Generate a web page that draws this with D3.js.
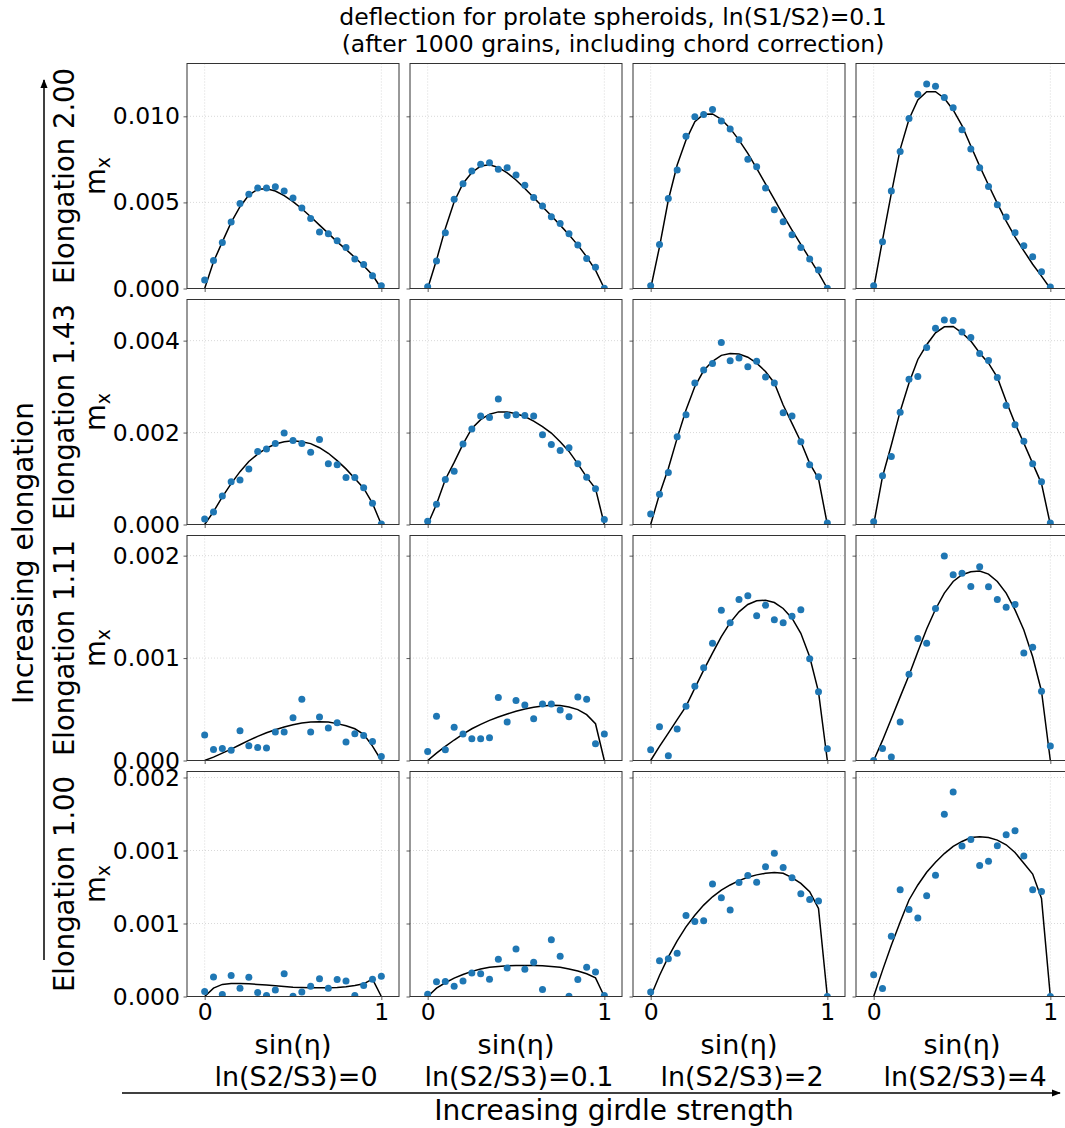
<!DOCTYPE html>
<html>
<head>
<meta charset="utf-8">
<script src="https://cdn.jsdelivr.net/npm/d3@7"></script>
<style>
  body { margin: 0; background: #fff; }
  svg { display: block; font-family: 'DejaVu Sans', sans-serif; }
</style>
</head>
<body>
<svg id="chart" width="1065" height="1128"></svg>
<script>
// sin(eta) sample positions shared by every panel
const sinEta = [0, 0.05, 0.1, 0.15, 0.2, 0.25, 0.3, 0.35, 0.4, 0.45, 0.5,
  0.55, 0.6, 0.65, 0.7, 0.75, 0.8, 0.85, 0.9, 0.95, 1];

const rowLabels = ['Elongation 2.00', 'Elongation 1.43', 'Elongation 1.11', 'Elongation 1.00'];
const colLabels = ['ln(S2/S3)=0', 'ln(S2/S3)=0.1', 'ln(S2/S3)=2', 'ln(S2/S3)=4'];

const yTickValues = [
  [0, 0.005, 0.01],
  [0, 0.002, 0.004],
  [0, 0.001, 0.002],
  [0, 0.0005, 0.001, 0.0015]
];
const yTickLabels = [
  ['0.000', '0.005', '0.010'],
  ['0.000', '0.002', '0.004'],
  ['0.000', '0.001', '0.002'],
  ['0.000', '0.001', '0.001', '0.002']
];
const xTickValues = [0, 1];

// simulated m_x (dots), one array per girdle-strength column
const pointsE200 = [
  [0.00050, 0.00163, 0.00267, 0.00386, 0.00494, 0.00548, 0.00583, 0.00583, 0.00591, 0.00566, 0.00525, 0.00467, 0.00407, 0.00328, 0.00318, 0.00277, 0.00238, 0.00172, 0.00140, 0.00074, 0.00016],
  [0.00010, 0.00159, 0.00324, 0.00519, 0.00608, 0.00682, 0.00721, 0.00731, 0.00692, 0.00702, 0.00659, 0.00599, 0.00529, 0.00479, 0.00417, 0.00378, 0.00318, 0.00252, 0.00174, 0.00124, 0.00002],
  [0.00016, 0.00256, 0.00523, 0.00688, 0.00884, 0.00998, 0.01010, 0.01039, 0.00973, 0.00926, 0.00864, 0.00750, 0.00707, 0.00583, 0.00457, 0.00388, 0.00312, 0.00238, 0.00172, 0.00107, 0.00002],
  [0.00016, 0.00271, 0.00566, 0.00795, 0.00988, 0.01128, 0.01188, 0.01174, 0.01109, 0.01050, 0.00922, 0.00810, 0.00702, 0.00593, 0.00486, 0.00415, 0.00324, 0.00248, 0.00184, 0.00097, 0.00008]
];
const pointsE143 = [
  [0.00012, 0.00027, 0.00062, 0.00093, 0.00097, 0.00121, 0.00159, 0.00164, 0.00176, 0.00199, 0.00183, 0.00176, 0.00157, 0.00185, 0.00132, 0.00130, 0.00102, 0.00102, 0.00080, 0.00046, 0.00001],
  [0.00007, 0.00044, 0.00098, 0.00116, 0.00175, 0.00208, 0.00236, 0.00233, 0.00273, 0.00237, 0.00239, 0.00237, 0.00236, 0.00195, 0.00174, 0.00161, 0.00167, 0.00132, 0.00103, 0.00078, 0.00011],
  [0.00023, 0.00066, 0.00113, 0.00191, 0.00239, 0.00308, 0.00336, 0.00350, 0.00396, 0.00356, 0.00362, 0.00343, 0.00355, 0.00321, 0.00308, 0.00243, 0.00236, 0.00180, 0.00130, 0.00104, 0.00003],
  [0.00006, 0.00106, 0.00148, 0.00244, 0.00316, 0.00322, 0.00385, 0.00427, 0.00445, 0.00444, 0.00419, 0.00407, 0.00372, 0.00357, 0.00320, 0.00259, 0.00217, 0.00181, 0.00132, 0.00093, 0.00003]
];
const pointsE111 = [
  [0.000248, 0.000108, 0.000118, 0.000101, 0.000291, 0.000144, 0.000127, 0.000121, 0.000278, 0.000278, 0.000418, 0.000598, 0.000278, 0.000425, 0.000317, 0.000369, 0.000180, 0.000261, 0.000245, 0.000186, 0.000039],
  [0.000088, 0.000431, 0.000105, 0.000324, 0.000258, 0.000212, 0.000212, 0.000222, 0.000614, 0.000376, 0.000585, 0.000542, 0.000408, 0.000552, 0.000552, 0.000493, 0.000428, 0.000621, 0.000598, 0.000163, 0.000258],
  [0.000105, 0.000330, 0.000046, 0.000307, 0.000529, 0.000725, 0.000905, 0.001144, 0.001467, 0.001346, 0.001572, 0.001608, 0.001412, 0.001516, 0.001373, 0.001346, 0.001408, 0.001471, 0.000993, 0.000670, 0.000114],
  [0.000000, 0.000118, 0.000033, 0.000376, 0.000843, 0.001190, 0.001144, 0.001484, 0.001997, 0.001814, 0.001827, 0.001699, 0.001892, 0.001696, 0.001572, 0.001497, 0.001523, 0.001049, 0.001105, 0.000676, 0.000141]
];
const pointsE100 = [
  [0.000034, 0.000133, 0.000014, 0.000144, 0.000057, 0.000131, 0.000028, 0.000007, 0.000044, 0.000156, 0.000002, 0.000030, 0.000071, 0.000122, 0.000057, 0.000117, 0.000106, 0.000007, 0.000076, 0.000119, 0.000138],
  [0.000016, 0.000101, 0.000103, 0.000071, 0.000106, 0.000161, 0.000156, 0.000119, 0.000255, 0.000195, 0.000326, 0.000186, 0.000234, 0.000048, 0.000388, 0.000275, 0.000002, 0.000117, 0.000200, 0.000167, 0.000007],
  [0.000030, 0.000245, 0.000259, 0.000296, 0.000555, 0.000514, 0.000518, 0.000771, 0.000677, 0.000592, 0.000780, 0.000828, 0.000782, 0.000888, 0.000982, 0.000883, 0.000814, 0.000704, 0.000665, 0.000654, 0.000000],
  [0.000149, 0.000055, 0.000413, 0.000732, 0.000596, 0.000537, 0.000690, 0.000830, 0.001248, 0.001401, 0.001030, 0.001076, 0.000897, 0.000927, 0.001032, 0.001108, 0.001135, 0.000963, 0.000732, 0.000720, 0.000000]
];

// model curves (black lines)
const fitE200 = [
  [0, 0.00155, 0.00271, 0.00384, 0.00475, 0.00543, 0.00576, 0.00579, 0.00566, 0.00539, 0.00504, 0.00463, 0.00417, 0.00368, 0.00320, 0.00271, 0.00227, 0.00180, 0.00132, 0.00078, 0],
  [0, 0.00165, 0.00349, 0.00504, 0.00610, 0.00674, 0.00711, 0.00719, 0.00703, 0.00672, 0.00630, 0.00581, 0.00529, 0.00475, 0.00422, 0.00368, 0.00312, 0.00252, 0.00184, 0.00107, 0],
  [0, 0.00242, 0.00514, 0.00717, 0.00862, 0.00969, 0.01012, 0.01014, 0.00983, 0.00930, 0.00862, 0.00785, 0.00698, 0.00607, 0.00517, 0.00426, 0.00339, 0.00256, 0.00174, 0.00091, 0],
  [0, 0.00281, 0.00552, 0.00808, 0.00983, 0.01095, 0.01143, 0.01143, 0.01105, 0.01037, 0.00946, 0.00828, 0.00711, 0.00601, 0.00494, 0.00391, 0.00300, 0.00219, 0.00141, 0.00072, 0]
];
const fitE143 = [
  [0, 0.00028, 0.00060, 0.00089, 0.00115, 0.00137, 0.00153, 0.00166, 0.00175, 0.00180, 0.00182, 0.00180, 0.00176, 0.00167, 0.00155, 0.00139, 0.00121, 0.00100, 0.00079, 0.00046, 0],
  [0, 0.00044, 0.00098, 0.00135, 0.00175, 0.00209, 0.00228, 0.00240, 0.00245, 0.00245, 0.00241, 0.00235, 0.00225, 0.00213, 0.00199, 0.00180, 0.00159, 0.00132, 0.00103, 0.00078, 0],
  [0, 0.00066, 0.00122, 0.00188, 0.00249, 0.00300, 0.00335, 0.00355, 0.00368, 0.00372, 0.00371, 0.00364, 0.00351, 0.00333, 0.00308, 0.00260, 0.00220, 0.00180, 0.00133, 0.00100, 0],
  [0, 0.00104, 0.00173, 0.00246, 0.00308, 0.00359, 0.00391, 0.00417, 0.00430, 0.00431, 0.00417, 0.00399, 0.00373, 0.00351, 0.00320, 0.00268, 0.00220, 0.00177, 0.00133, 0.00089, 0]
];
const fitE111 = [
  [0, 0.000033, 0.000072, 0.000111, 0.000154, 0.000196, 0.000235, 0.000271, 0.000301, 0.000327, 0.000350, 0.000366, 0.000376, 0.000379, 0.000376, 0.000360, 0.000340, 0.000310, 0.000255, 0.000140, 0],
  [0, 0.000072, 0.000137, 0.000200, 0.000258, 0.000310, 0.000353, 0.000392, 0.000425, 0.000454, 0.000480, 0.000503, 0.000520, 0.000533, 0.000539, 0.000536, 0.000523, 0.000497, 0.000448, 0.000359, 0],
  [0, 0.000137, 0.000268, 0.000399, 0.000529, 0.000706, 0.000882, 0.001049, 0.001209, 0.001346, 0.001451, 0.001523, 0.001559, 0.001565, 0.001542, 0.001484, 0.001389, 0.001242, 0.001013, 0.000670, 0],
  [0, 0.000196, 0.000408, 0.000621, 0.000833, 0.001062, 0.001284, 0.001477, 0.001634, 0.001748, 0.001814, 0.001843, 0.001850, 0.001820, 0.001748, 0.001634, 0.001471, 0.001275, 0.001013, 0.000676, 0]
];
const fitE100 = [
  [0, 0.000057, 0.000083, 0.000089, 0.000089, 0.000087, 0.000083, 0.000078, 0.000073, 0.000069, 0.000064, 0.000062, 0.000060, 0.000060, 0.000060, 0.000062, 0.000067, 0.000076, 0.000087, 0.000119, 0],
  [0, 0.000057, 0.000094, 0.000126, 0.000151, 0.000172, 0.000188, 0.000200, 0.000206, 0.000211, 0.000213, 0.000213, 0.000213, 0.000211, 0.000206, 0.000200, 0.000188, 0.000174, 0.000156, 0.000128, 0],
  [0, 0.000144, 0.000271, 0.000381, 0.000477, 0.000557, 0.000626, 0.000683, 0.000729, 0.000764, 0.000794, 0.000817, 0.000833, 0.000844, 0.000849, 0.000844, 0.000814, 0.000775, 0.000718, 0.000603, 0],
  [0, 0.000179, 0.000351, 0.000511, 0.000661, 0.000764, 0.000851, 0.000920, 0.000979, 0.001028, 0.001062, 0.001089, 0.001094, 0.001089, 0.001071, 0.001039, 0.000986, 0.000913, 0.000839, 0.000672, 0]
];

const pointRows = [pointsE200, pointsE143, pointsE111, pointsE100];
const fitRows = [fitE200, fitE143, fitE111, fitE100];

// layout
const colLeft = [187, 410, 633, 856];
const rowTop = [63.5, 299.5, 535.5, 771.5];
const panelW = 212;
const panelH = 225;

const svg = d3.select('#chart');
const defs = svg.append('defs');

defs.append('marker')
  .attr('id', 'arrowHead')
  .attr('viewBox', '0 0 10 10')
  .attr('refX', 9).attr('refY', 5)
  .attr('markerWidth', 9).attr('markerHeight', 9)
  .attr('markerUnits', 'userSpaceOnUse')
  .attr('orient', 'auto')
  .append('path')
  .attr('d', 'M0,1 L10,5 L0,9 Z')
  .attr('fill', '#000');

const x = d3.scaleLinear().domain([-0.1, 1.1]).range([0, panelW]);

rowLabels.forEach((rowLabel, r) => {
  const yMax = 1.1 * d3.max(pointRows[r].concat(fitRows[r]).flat());
  const y = d3.scaleLinear().domain([0, yMax]).range([panelH, 0]);

  colLabels.forEach((colLabel, c) => {
    const g = svg.append('g').attr('transform', `translate(${colLeft[c]},${rowTop[r]})`);
    const clipId = `clip-${r}-${c}`;
    defs.append('clipPath').attr('id', clipId)
      .append('rect').attr('width', panelW).attr('height', panelH);

    // dotted grid
    g.append('g').selectAll('line.gx').data(xTickValues).join('line')
      .attr('x1', d => x(d)).attr('x2', d => x(d))
      .attr('y1', 0).attr('y2', panelH)
      .attr('stroke', '#cfcfcf').attr('stroke-width', 0.8).attr('stroke-dasharray', '1,2');
    g.append('g').selectAll('line.gy').data(yTickValues[r]).join('line')
      .attr('x1', 0).attr('x2', panelW)
      .attr('y1', d => y(d)).attr('y2', d => y(d))
      .attr('stroke', '#cfcfcf').attr('stroke-width', 0.8).attr('stroke-dasharray', '1,2');

    const plot = g.append('g').attr('clip-path', `url(#${clipId})`);
    plot.append('path')
      .datum(fitRows[r][c])
      .attr('fill', 'none')
      .attr('stroke', '#000')
      .attr('stroke-width', 1.5)
      .attr('d', d3.line().x((d, i) => x(sinEta[i])).y(d => y(d)));
    plot.append('g').selectAll('circle')
      .data(pointRows[r][c])
      .join('circle')
      .attr('cx', (d, i) => x(sinEta[i]))
      .attr('cy', d => y(d))
      .attr('r', 3.5)
      .attr('fill', '#1f77b4');

    // axes
    const yAxis = d3.axisLeft(y).tickValues(yTickValues[r]).tickSize(3.5).tickPadding(3.5)
      .tickFormat((d, i) => (c === 0 ? yTickLabels[r][i] : ''));
    const ya = g.append('g').call(yAxis);
    const xAxis = d3.axisBottom(x).tickValues(xTickValues).tickSize(3.5).tickPadding(3.5)
      .tickFormat(d => (r === 3 ? d3.format('d')(d) : ''));
    const xa = g.append('g').attr('transform', `translate(0,${panelH})`).call(xAxis);
    [ya, xa].forEach(a => {
      a.select('.domain').remove();
      a.selectAll('line').attr('stroke', '#333').attr('stroke-width', 0.8);
      a.selectAll('text').attr('font-size', 23.5).attr('font-family', 'DejaVu Sans').attr('fill', '#000');
    });

    g.append('rect')
      .attr('width', panelW).attr('height', panelH)
      .attr('fill', 'none').attr('stroke', '#333').attr('stroke-width', 1);
  });

  // row label: two lines, rotated
  const cy = rowTop[r] + panelH / 2;
  svg.append('text')
    .attr('transform', `translate(74,${cy}) rotate(-90)`)
    .attr('text-anchor', 'middle')
    .attr('font-size', 27.5)
    .text(rowLabel);
  const mx = svg.append('text')
    .attr('transform', `translate(105,${cy}) rotate(-90)`)
    .attr('text-anchor', 'middle')
    .attr('font-size', 27.5);
  mx.append('tspan').text('m');
  mx.append('tspan').attr('font-size', 19).attr('dy', 5).text('x');
});

// column labels
colLabels.forEach((colLabel, c) => {
  const cx = colLeft[c] + panelW / 2;
  svg.append('text').attr('x', cx).attr('y', 1054)
    .attr('text-anchor', 'middle').attr('font-size', 27).text('sin(η)');
  svg.append('text').attr('x', cx + 3).attr('y', 1086)
    .attr('text-anchor', 'middle').attr('font-size', 27).text(colLabel);
});

// title
svg.append('text').attr('x', 613).attr('y', 25)
  .attr('text-anchor', 'middle').attr('font-size', 23.5)
  .text('deflection for prolate spheroids, ln(S1/S2)=0.1');
svg.append('text').attr('x', 613).attr('y', 52)
  .attr('text-anchor', 'middle').attr('font-size', 23.5)
  .text('(after 1000 grains, including chord correction)');

// direction arrows
svg.append('line')
  .attr('x1', 44).attr('y1', 960).attr('x2', 44).attr('y2', 80)
  .attr('stroke', '#000').attr('stroke-width', 1.5)
  .attr('marker-end', 'url(#arrowHead)');
svg.append('text')
  .attr('transform', 'translate(33,553) rotate(-90)')
  .attr('text-anchor', 'middle').attr('font-size', 28)
  .text('Increasing elongation');

svg.append('line')
  .attr('x1', 122).attr('y1', 1093).attr('x2', 1060).attr('y2', 1093)
  .attr('stroke', '#000').attr('stroke-width', 1.5)
  .attr('marker-end', 'url(#arrowHead)');
svg.append('text')
  .attr('x', 614).attr('y', 1120)
  .attr('text-anchor', 'middle').attr('font-size', 28)
  .text('Increasing girdle strength');
</script>
</body>
</html>
